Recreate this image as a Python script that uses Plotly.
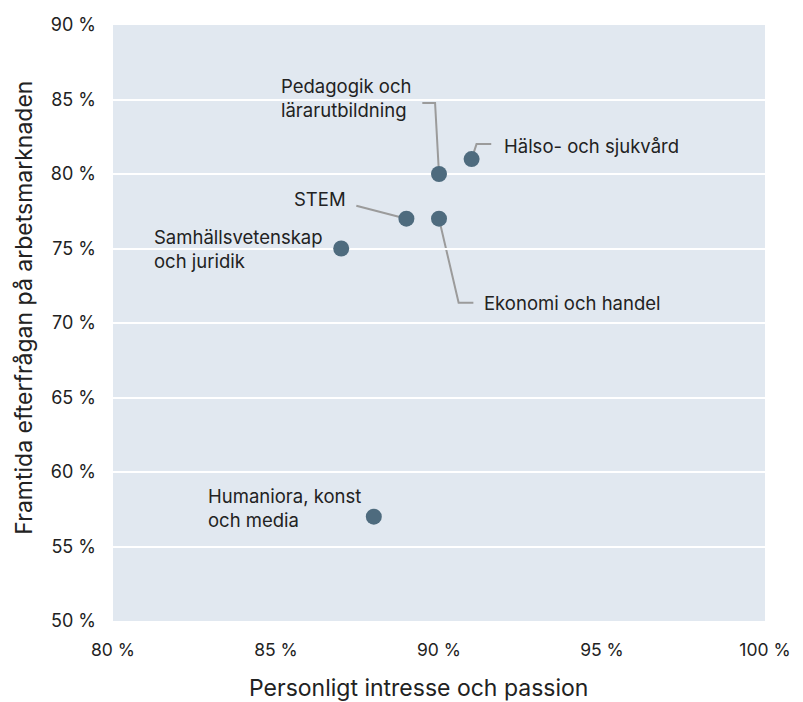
import plotly.graph_objects as go

# Data
categories = ["Hälso- och sjukvård", "Pedagogik och<br>lärarutbildning", "STEM",
              "Ekonomi och handel", "Samhällsvetenskap<br>och juridik", "Humaniora, konst<br>och media"]
interest = [91, 90, 89, 90, 87, 88]        # Personligt intresse och passion (%)
demand = [81, 80, 77, 77, 75, 57]          # Framtida efterfrågan på arbetsmarknaden (%)
x_ticks = [80, 85, 90, 95, 100]
y_ticks = [50, 55, 60, 65, 70, 75, 80, 85, 90]

FONT = "Inter, Roboto, 'Noto Sans', sans-serif"
TXT = "#222222"
MARK = "#4e6b7e"
LEAD = "#9b9b9b"

W, H = 803, 702
L, R, T, B = 113, 26, 25, 81
x0, x1 = 80, 100
y0, y1 = 50, 90
pxx = (W - L - R) / (x1 - x0)
pxy = (H - T - B) / (y1 - y0)

fig = go.Figure()
fig.add_trace(go.Scatter(
    x=interest, y=demand, mode="markers",
    marker=dict(size=16, color=MARK, line=dict(width=0)),
    hoverinfo="skip", showlegend=False,
))

# label placement: (left-edge px offset from point, vertical center px offset (down positive))
label_pos = [(30, -13), (-160, -76), (-114, -20), (43, 84), (-189, 0), (-168, -9)]
# leader lines as pixel offsets from point (down positive)
leaders = [
    [(0, 0), (5, -15), (20, -15)],
    [(0, 0), (-4, -71), (-17, -71)],
    [(0, 0), (-51, -13)],
    [(0, 0), (20, 84), (35, 84)],
    None,
    None,
]

shapes = []
for i, pts in enumerate(leaders):
    if not pts:
        continue
    coords = [(interest[i] + dx / pxx, demand[i] - dy / pxy) for dx, dy in pts]
    path = "M " + " L ".join(f"{cx},{cy}" for cx, cy in coords)
    shapes.append(dict(type="path", path=path, xref="x", yref="y", layer="below",
                       line=dict(color=LEAD, width=2)))

annotations = []
for i, name in enumerate(categories):
    dx, dy = label_pos[i]
    annotations.append(dict(
        x=interest[i], y=demand[i], xref="x", yref="y", text=name, showarrow=False,
        xanchor="left", yanchor="middle", align="left", xshift=dx, yshift=-dy,
        font=dict(family=FONT, size=18.5, color=TXT),
    ))

annotations.append(dict(
    x=(424 - L) / (W - L - R), y=-(688 - (H - B)) / (H - T - B), xref="paper", yref="paper",
    text="Personligt intresse och passion", showarrow=False, xanchor="center", yanchor="middle",
    font=dict(family=FONT, size=23, color=TXT),
))
annotations.append(dict(
    x=-(L - 22) / (W - L - R), y=((H - B) - 308) / (H - T - B), xref="paper", yref="paper", textangle=-90,
    text="Framtida efterfrågan på arbetsmarknaden", showarrow=False, xanchor="center", yanchor="middle",
    font=dict(family=FONT, size=23, color=TXT),
))

fig.update_layout(
    width=W, height=H,
    margin=dict(l=L, r=R, t=T, b=B, pad=0),
    paper_bgcolor="white", plot_bgcolor="#e1e8f0",
    font=dict(family=FONT, size=18, color=TXT),
    shapes=shapes, annotations=annotations,
    showlegend=False,
)
fig.update_xaxes(range=[x0, x1], tickvals=x_ticks, ticktext=[f"{v} %" for v in x_ticks],
                 showgrid=False, zeroline=False, showline=False, ticks="",
                 ticklabelstandoff=16, tickfont=dict(size=17.5, color=TXT))
fig.update_yaxes(range=[y0, y1], tickvals=y_ticks, ticktext=[f"{v} %" for v in y_ticks],
                 showgrid=True, gridcolor="white", gridwidth=2, zeroline=False, showline=False,
                 ticks="", ticklabelstandoff=16, tickfont=dict(size=18, color=TXT))

fig.write_html(
    "out.html", config={"displayModeBar": False},
    post_script="document.body.style.margin='0';document.body.style.overflow='hidden';",
)
